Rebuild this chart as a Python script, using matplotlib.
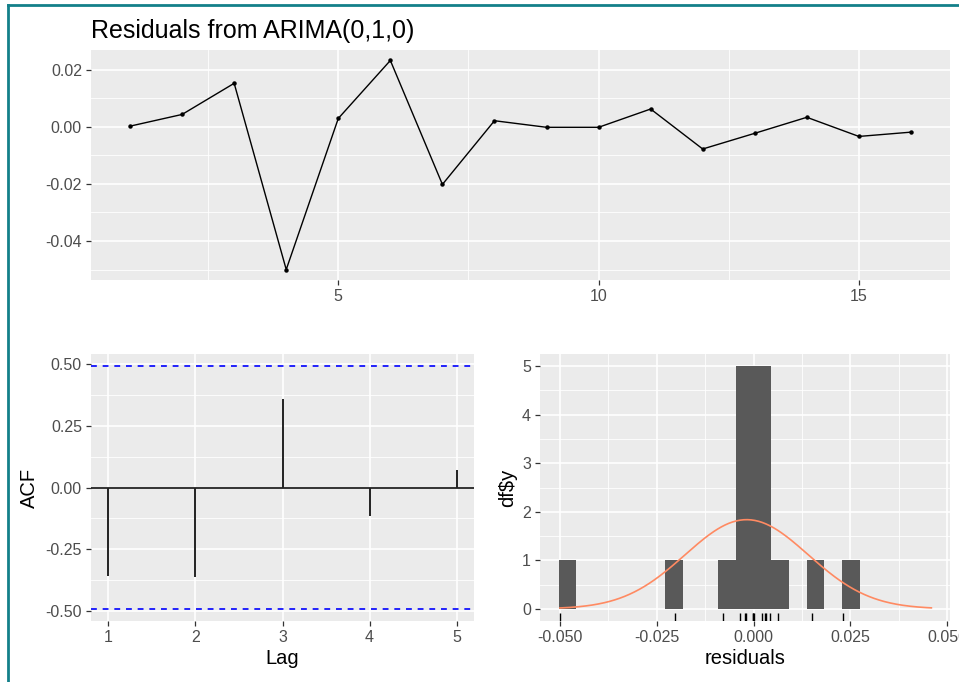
import numpy as np
import matplotlib.pyplot as plt
from matplotlib.lines import Line2D
from matplotlib.ticker import MultipleLocator, FixedLocator

plt.rcParams['font.family'] = ['Liberation Sans', 'DejaVu Sans']

# residuals
time_idx = np.arange(1, 17)
residuals = np.array([0.0002, 0.0043, 0.0152, -0.0500, 0.0029, 0.0232, -0.0202, 0.0021,
                      -0.0002, -0.0002, 0.0062, -0.0078, -0.0023, 0.0033, -0.0034, -0.0019])

# ACF of the residuals
lags = [1, 2, 3, 4, 5]
acf_vals = [-0.357, -0.363, 0.358, -0.117, 0.072]
n_obs = len(residuals)
n_bins = 16

BG = '#EBEBEB'
TICK_COL = '#4D4D4D'
TEAL = '#13808A'


def pad_range(lo, hi, frac=0.05):
    d = (hi - lo) * frac
    return lo - d, hi + d


def gg_style(ax):
    ax.set_facecolor(BG)
    for s in ax.spines.values():
        s.set_visible(False)
    ax.set_axisbelow(True)
    ax.grid(which='major', color='white', lw=1.2)
    ax.grid(which='minor', color='white', lw=0.6)
    ax.tick_params(which='major', length=3.5, width=0.9, color='#333333',
                   labelsize=11.5, labelcolor=TICK_COL, pad=3)
    ax.tick_params(which='minor', length=0)


fig = plt.figure(figsize=(9.59, 6.82), dpi=100)
W, H = 959, 682


def px_axes(x0, y0, x1, y1):
    return fig.add_axes([x0 / W, 1 - y1 / H, (x1 - x0) / W, (y1 - y0) / H])


# top: residual series
ax1 = px_axes(91, 50, 950, 280)
gg_style(ax1)
ax1.plot(time_idx, residuals, color='black', lw=1.0, marker='o', ms=2.2)
ax1.set_xlim(*pad_range(time_idx.min(), time_idx.max()))
ax1.set_ylim(*pad_range(residuals.min(), residuals.max()))
ax1.xaxis.set_major_locator(FixedLocator([5, 10, 15]))
ax1.xaxis.set_minor_locator(FixedLocator([2.5, 7.5, 12.5]))
ax1.yaxis.set_major_locator(MultipleLocator(0.02))
ax1.yaxis.set_minor_locator(MultipleLocator(0.01))
ax1.yaxis.set_major_formatter(lambda v, p: f'{v:.2f}')
fig.text(91 / W, 1 - 38 / H, 'Residuals from ARIMA(0,1,0)', fontsize=18,
         color='black', ha='left', va='baseline')

# bottom left: ACF
ci = 1.96 / np.sqrt(n_obs)
ax2 = px_axes(91, 354, 474, 621)
gg_style(ax2)
ax2.vlines(lags, 0, acf_vals, color='#222222', lw=1.4)
ax2.axhline(0, color='#222222', lw=1.3)
for c in (ci, -ci):
    ax2.axhline(c, color='blue', lw=1.2, ls=(0, (3.5, 3.5)))
ax2.set_xlim(*pad_range(min(lags), max(lags)))
ax2.set_ylim(*pad_range(min(min(acf_vals), -ci), max(max(acf_vals), ci)))
ax2.xaxis.set_major_locator(FixedLocator(lags))
ax2.yaxis.set_major_locator(MultipleLocator(0.25))
ax2.yaxis.set_minor_locator(MultipleLocator(0.125))
ax2.yaxis.set_major_formatter(lambda v, p: f'{v:.2f}')
ax2.set_xlabel('Lag', fontsize=14.5, labelpad=3)
ax2.set_ylabel('ACF', fontsize=14.5)
ax2.yaxis.set_label_coords(-0.136, 0.5)

# bottom right: histogram with normal curve and rug
bin_w = (residuals.max() - residuals.min()) / n_bins
edges = np.arange(np.floor(residuals.min() / bin_w), np.ceil(residuals.max() / bin_w) + 1) * bin_w
m, sd = residuals.mean(), residuals.std(ddof=1)
xs = np.linspace(min(residuals.min(), m - 3 * sd), max(residuals.max(), m + 3 * sd), 300)
ys = np.exp(-0.5 * ((xs - m) / sd) ** 2) / (sd * np.sqrt(2 * np.pi)) * n_obs * bin_w

ax3 = px_axes(540, 354, 950, 621)
gg_style(ax3)
counts, _, _ = ax3.hist(residuals, bins=edges, color='#595959')
ax3.plot(xs, ys, color='#FF8A62', lw=1.2)
ax3.vlines(residuals, 0, 0.03, transform=ax3.get_xaxis_transform(), color='black', lw=1.0)
ax3.set_xlim(*pad_range(min(edges[0], xs[0]), max(edges[-1], xs[-1])))
ax3.set_ylim(*pad_range(0, counts.max()))
ax3.xaxis.set_major_locator(MultipleLocator(0.025))
ax3.xaxis.set_minor_locator(MultipleLocator(0.0125))
ax3.yaxis.set_major_locator(MultipleLocator(1))
ax3.yaxis.set_minor_locator(MultipleLocator(0.5))
ax3.xaxis.set_major_formatter(lambda v, p: f'{v:.3f}')
ax3.set_xlabel('residuals', fontsize=14.5, labelpad=3)
ax3.set_ylabel(r'df\$y', fontsize=14.5)
ax3.yaxis.set_label_coords(-0.056, 0.5)

# screenshot frame
fig.add_artist(Line2D([8 / W, 8 / W], [0, 1 - 5 / H], transform=fig.transFigure, color=TEAL, lw=2))
fig.add_artist(Line2D([8 / W, 1], [1 - 5 / H, 1 - 5 / H], transform=fig.transFigure, color=TEAL, lw=2))

fig.savefig('out.png', dpi=100)
